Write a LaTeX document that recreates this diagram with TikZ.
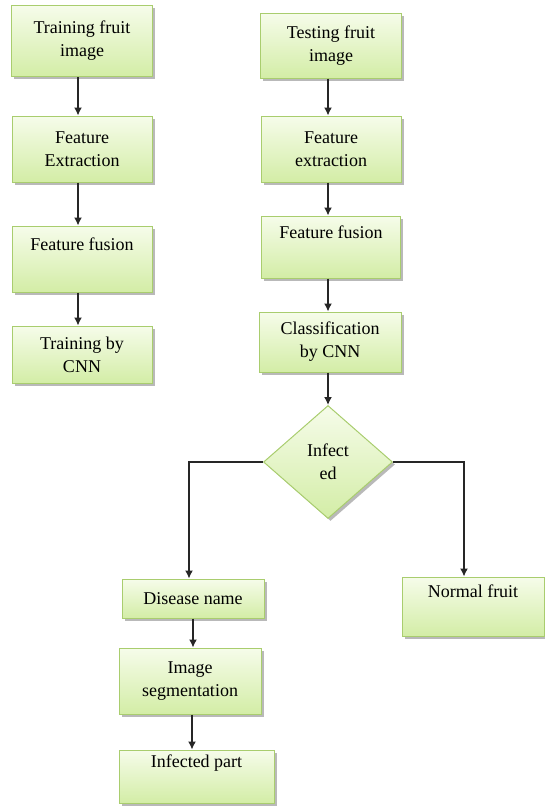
\documentclass[tikz,border=0pt]{standalone}
\usepackage{fontspec}
\setmainfont{Liberation Serif}
\newfontfamily\boxfont{Liberation Serif}
\usetikzlibrary{shapes.geometric, shadows, arrows.meta}
\definecolor{boxtop}{HTML}{F6FCEA}
\definecolor{boxbot}{HTML}{D3EDA6}
\definecolor{boxline}{HTML}{A9CD6E}
\begin{document}
\begin{tikzpicture}[x=1pt, y=-1pt,
        box/.style={draw=boxline, line width=1pt, top color=boxtop, bottom color=boxbot,
            drop shadow={shadow xshift=2.5pt, shadow yshift=-2.5pt, fill=black!50, opacity=.55},
            align=center, inner sep=0pt, font=\boxfont\fontsize{18}{23}\selectfont},
        decide/.style={box, diamond, aspect=1.14},
        flow/.style={-{Latex[length=8pt, width=8pt]}, line width=1.4pt, black!85}]
        \useasboundingbox (0, 0) rectangle (544, 806);
        \node (train) at (82, 41) [box, minimum width=141pt, minimum height=71pt] {Training fruit\\image};
        \node (extractL) at (82, 149) [box, minimum width=140pt, minimum height=66pt] {Feature\\Extraction};
        \node (fusionL) at (82, 259) [box, minimum width=140pt, minimum height=66pt] {Feature fusion\\\strut};
        \node (trainCNN) at (82, 354.5) [box, minimum width=140pt, minimum height=57pt] {Training by\\CNN};
        \node (test) at (331, 45.5) [box, minimum width=141pt, minimum height=65pt] {Testing fruit\\image};
        \node (extractR) at (331, 149) [box, minimum width=140pt, minimum height=66pt] {Feature\\extraction};
        \node (fusionR) at (331, 247) [box, minimum width=139pt, minimum height=62pt] {Feature fusion\\\strut};
        \node (classify) at (330, 342) [box, minimum width=142pt, minimum height=60pt] {Classification\\by CNN};
        \node (infected) at (328, 462) [decide, minimum width=129pt, minimum height=113pt] {Infect\\ed};
        \node (disease) at (193, 598.5) [box, minimum width=142pt, minimum height=39pt] {Disease name};
        \node (segment) at (190, 681) [box, minimum width=142pt, minimum height=66pt] {Image\\segmentation};
        \node (part) at (196.5, 776.5) [box, minimum width=155pt, minimum height=53pt] {Infected part\\\strut};
        \node (normal) at (473, 606.5) [box, minimum width=142pt, minimum height=59pt] {Normal fruit\\\strut};
        \draw [flow] ([xshift=-4pt]train.south) -- ([xshift=-4pt]extractL.north);
        \draw [flow] ([xshift=-4pt]extractL.south) -- ([xshift=-4pt]fusionL.north);
        \draw [flow] ([xshift=-4pt]fusionL.south) -- ([xshift=-4pt]trainCNN.north);
        \draw [flow] ([xshift=-3pt]test.south) -- ([xshift=-3pt]extractR.north);
        \draw [flow] ([xshift=-3pt]extractR.south) -- ([xshift=-3pt]fusionR.north);
        \draw [flow] ([xshift=-3pt]fusionR.south) -- ([xshift=-3pt]fusionR.south |- classify.north);
        \draw [flow] ([xshift=-2pt]classify.south) -- (infected.north);
        \draw [flow] (infected.west) -| ([xshift=-4pt]disease.north);
        \draw [flow] (infected.east) -| ([xshift=-9pt]normal.north);
        \draw [flow] (disease.south) -- (disease.south |- segment.north);
        \draw [flow] ([xshift=2pt]segment.south) -- ([xshift=2pt]segment.south |- part.north);
\end{tikzpicture}
\end{document}
